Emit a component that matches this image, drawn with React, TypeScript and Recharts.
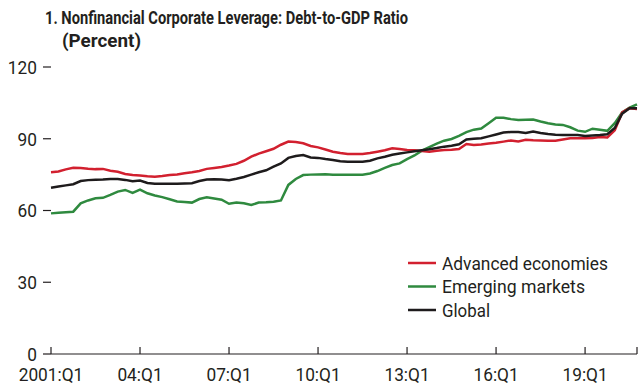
import React from "react";
import { LineChart, Line, XAxis, YAxis } from "recharts";

const advanced = [
  76.0, 76.3, 77.2, 77.9, 77.8, 77.5, 77.3, 77.4, 76.6, 76.2,
  75.3, 74.8, 74.6, 74.3, 74.1, 74.4, 74.8, 75.1, 75.6, 76.0,
  76.5, 77.4, 77.8, 78.2, 78.8, 79.5, 80.8, 82.5, 83.8, 84.8,
  85.8, 87.5, 88.8, 88.6, 88.1, 87.0, 86.4, 85.5, 84.6, 84.0,
  83.6, 83.6, 83.6, 84.0, 84.6, 85.2, 86.0, 85.7, 85.3, 85.2,
  84.9, 84.6, 85.0, 85.3, 85.4, 85.7, 87.8, 87.4, 87.6, 88.0,
  88.3, 88.8, 89.3, 88.9, 89.6, 89.4, 89.3, 89.2, 89.2, 89.7,
  90.2, 90.2, 90.2, 90.3, 90.7, 90.5, 93.5, 101.0, 102.8, 102.4,
];

const emerging = [
  58.8, 59.1, 59.3, 59.5, 63.0, 64.2, 65.1, 65.3, 66.5, 67.9,
  68.6, 67.4, 68.7, 67.2, 66.3, 65.6, 64.7, 63.8, 63.6, 63.3,
  64.8, 65.5, 65.0, 64.5, 62.8, 63.3, 63.0, 62.3, 63.3, 63.4,
  63.7, 64.2, 70.7, 73.2, 74.8, 75.0, 75.1, 75.2, 75.0, 75.0,
  75.0, 75.0, 75.0, 75.5, 76.5, 77.8, 79.0, 79.7, 81.5, 83.0,
  85.0, 86.5, 88.0, 89.2, 89.9, 91.2, 92.8, 93.8, 94.3, 96.5,
  98.8, 98.8, 98.2, 97.8, 97.9, 98.0, 97.2, 96.5, 96.0, 95.8,
  94.8, 93.4, 92.9, 94.2, 93.8, 93.3, 96.5, 101.0, 103.0, 104.4,
];

const globalSeries = [
  69.5, 70.0, 70.5, 71.0, 72.3, 72.7, 72.9, 73.0, 73.2, 73.2,
  72.8, 72.2, 72.5, 71.5, 71.2, 71.2, 71.2, 71.2, 71.3, 71.4,
  72.3, 73.0, 73.1, 73.0, 72.7, 73.3, 74.0, 75.0, 76.0, 76.8,
  78.3, 79.7, 82.0, 82.8, 83.2, 82.2, 82.0, 81.5, 81.1, 80.6,
  80.4, 80.4, 80.4, 80.8, 81.8, 82.5, 83.3, 83.8, 84.3, 84.8,
  85.2, 85.6, 86.1, 86.7, 87.1, 87.7, 89.7, 90.0, 90.2, 91.0,
  91.8, 92.6, 92.8, 92.8, 92.4, 93.0, 92.4, 92.0, 91.7, 91.6,
  91.6, 91.6, 91.2, 91.4, 91.6, 91.9, 94.5, 100.5, 102.8, 102.8,
];

const xTickPositions = [0, 12, 24, 36, 48, 60, 72, 79];
const xTickLabels = ["2001:Q1", "04:Q1", "07:Q1", "10:Q1", "13:Q1", "16:Q1", "19:Q1", ""];
const yTicks = [0, 30, 60, 90, 120];

const titleLine1 = "1. Nonfinancial Corporate Leverage: Debt-to-GDP Ratio";
const titleLine2 = "(Percent)";
const seriesNames = ["Advanced economies", "Emerging markets", "Global"];

const RED = "#d2202f";
const GREEN = "#2f8a3f";
const BLACK = "#1e1b1c";
const TEXT = "#231f20";
const FONT = "Roboto, 'Liberation Sans', sans-serif";
const SQUEEZE = 0.91;

const data = advanced.map((v, i) => ({
  i,
  adv: v,
  em: emerging[i],
  glob: globalSeries[i],
}));

const XTick = (props: any) => {
  const { x, y, payload } = props;
  const idx = xTickPositions.indexOf(payload.value);
  const label = idx >= 0 ? xTickLabels[idx] : "";
  return (
    <g>
      <line x1={x} x2={x} y1={y} y2={y - 7} stroke={TEXT} strokeWidth={1.2} />
      {label ? (
        <text
          transform={`translate(${x},${y + 26.5}) scale(${SQUEEZE},1)`}
          textAnchor="middle"
          fontFamily={FONT}
          fontSize={19}
          fill={TEXT}
        >
          {label}
        </text>
      ) : null}
    </g>
  );
};

const YTick = (props: any) => {
  const { x, y, payload } = props;
  return (
    <text
      transform={`translate(${x},${y}) scale(${SQUEEZE},1)`}
      textAnchor="end"
      dy="0.36em"
      fontFamily={FONT}
      fontSize={19}
      fill={TEXT}
    >
      {payload.value}
    </text>
  );
};

const legendItems = [
  { name: seriesNames[0], color: RED, y: 263, len: 166 },
  { name: seriesNames[1], color: GREEN, y: 286.5, len: 143 },
  { name: seriesNames[2], color: BLACK, y: 310, len: 48 },
];

export default function App() {
  return (
    <div style={{ position: "absolute", left: 0, top: 0, width: 642, height: 388, background: "#fff" }}>
      <LineChart
        width={642}
        height={388}
        data={data}
        margin={{ top: 67, right: 0, bottom: 0, left: 0 }}
      >
        <XAxis
          dataKey="i"
          type="number"
          domain={[0, 79]}
          ticks={xTickPositions}
          interval={0}
          height={34}
          tickSize={0}
          tickMargin={0}
          tickLine={false}
          axisLine={{ stroke: TEXT, strokeWidth: 1.2 }}
          tick={<XTick />}
        />
        <YAxis
          yAxisId="left"
          domain={[0, 120]}
          ticks={yTicks}
          width={51}
          axisLine={false}
          tickSize={8}
          tickMargin={6}
          tickLine={{ stroke: TEXT, strokeWidth: 1.2 }}
          tick={<YTick />}
        />
        <YAxis
          yAxisId="right"
          orientation="right"
          domain={[0, 120]}
          ticks={yTicks}
          width={5}
          axisLine={false}
          tickSize={6}
          tickLine={{ stroke: TEXT, strokeWidth: 1.2 }}
          tick={false}
        />
        <Line yAxisId="left" dataKey="em" name={seriesNames[1]} stroke={GREEN} strokeWidth={2.5} dot={false} isAnimationActive={false} />
        <Line yAxisId="left" dataKey="adv" name={seriesNames[0]} stroke={RED} strokeWidth={2.5} dot={false} isAnimationActive={false} />
        <Line yAxisId="left" dataKey="glob" name={seriesNames[2]} stroke={BLACK} strokeWidth={2.5} dot={false} isAnimationActive={false} />
      </LineChart>
      <svg
        width={642}
        height={388}
        style={{ position: "absolute", left: 0, top: 0, pointerEvents: "none" }}
      >
        <text x={45} y={24} fontFamily={FONT} fontWeight="bold" fontSize={18} fill={TEXT} textLength={363} lengthAdjust="spacingAndGlyphs">
          {titleLine1}
        </text>
        <text x={62} y={47} fontFamily={FONT} fontWeight="bold" fontSize={18} fill={TEXT} textLength={79} lengthAdjust="spacingAndGlyphs">
          {titleLine2}
        </text>
        {legendItems.map((it) => (
          <g key={it.name}>
            <line x1={408} x2={436} y1={it.y} y2={it.y} stroke={it.color} strokeWidth={2.5} />
            <text
              x={442}
              y={it.y + 6.8}
              fontFamily={FONT}
              fontSize={19}
              fill={TEXT}
              textLength={it.len}
              lengthAdjust="spacingAndGlyphs"
            >
              {it.name}
            </text>
          </g>
        ))}
      </svg>
    </div>
  );
}
